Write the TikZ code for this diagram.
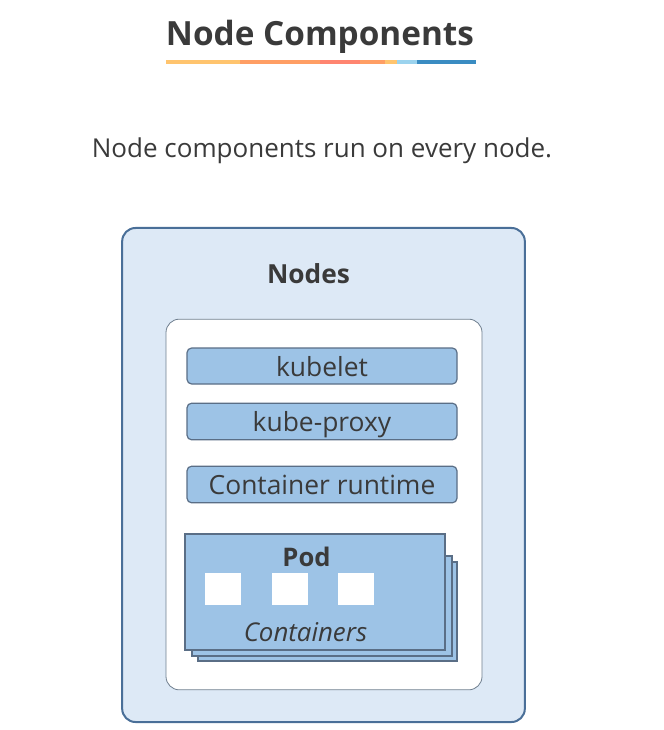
\documentclass[tikz,border=0pt]{standalone}
\usepackage{fontspec}
\setmainfont{Open Sans}
\definecolor{txt}{HTML}{3A3A3A}
\definecolor{outerfill}{HTML}{DDE9F6}
\definecolor{outerdraw}{HTML}{4A6F98}
\definecolor{innerdraw}{HTML}{6E7E8E}
\definecolor{boxfill}{HTML}{9DC3E6}
\definecolor{boxdraw}{HTML}{5A6E86}
\definecolor{lorange}{HTML}{FFC46E}
\definecolor{morange}{HTML}{FF9E64}
\definecolor{salmon}{HTML}{FF8570}
\definecolor{lblue}{HTML}{9BD3EE}
\definecolor{dblue}{HTML}{3A8CC2}
\begin{document}
\begin{tikzpicture}[x=0.75pt,y=-0.75pt,
  every node/.style={text=txt, inner sep=0pt},
  comp/.style={draw=boxdraw, fill=boxfill, line width=0.9pt, rounded corners=3.5pt,
    font=\fontsize{19.8}{24}\selectfont, text height=15pt, text depth=0pt},
  podrect/.style={draw=boxdraw, fill=boxfill, line width=0.9pt},
  ctr/.style={fill=white, minimum width=27pt, minimum height=24pt},
  seg/.style={line width=2.4pt}]
\useasboundingbox (0,0) rectangle (663,730);
% title
\node[font=\fontsize{25}{30}\bfseries] (title) at (320,37) {Node Components};
\draw[seg,lorange] (166,62) -- (240,62);
\draw[seg,morange] (240,62) -- (320,62);
\draw[seg,salmon] (320,62) -- (360,62);
\draw[seg,morange] (360,62) -- (385,62);
\draw[seg,lorange] (385,62) -- (397,62);
\draw[seg,lblue] (397,62) -- (417,62);
\draw[seg,dblue] (417,62) -- (476,62);
\node[font=\fontsize{19.5}{24}\selectfont] (sub) at (322,151) {Node components run on every node.};
% outer
\node[draw=outerdraw, fill=outerfill, line width=1.5pt, rounded corners=10pt,
  minimum width=302pt, minimum height=370.5pt] (outer) at (323.5,475) {};
\node[font=\fontsize{19.7}{24}\bfseries] (nodes) at (308.5,274) {Nodes};
\node[draw=innerdraw, fill=white, line width=0.6pt, rounded corners=10pt,
  minimum width=237pt, minimum height=278pt] (inner) at (324,504.5) {};
\node[comp, minimum width=202.5pt, minimum height=27pt] (kubelet) at (322,366) {kubelet};
\node[comp, minimum width=202.5pt, minimum height=27.5pt] (proxy) at (322,421.5) {kube-proxy};
\node[comp, minimum width=202.5pt, minimum height=27.5pt] (runtime) at (322,484.5) {Container runtime};
% pod stack
\node[podrect, minimum width=194.25pt, minimum height=74.25pt] (pod3) at (327.5,611.5) {};
\node[podrect, minimum width=195pt, minimum height=75pt] (pod2) at (322,606) {};
\node[podrect, minimum width=195pt, minimum height=87pt] (pod1) at (315,592) {};
\node[font=\fontsize{19.2}{23}\bfseries] (podlabel) at (306.5,557) {Pod};
\node[ctr] (c1) at (223,589) {};
\node[ctr] (c2) at (289.5,589) {};
\node[ctr] (c3) at (356,589) {};
\node[font=\fontsize{19.4}{23}\itshape] (containers) at (305.5,632) {Containers};
\end{tikzpicture}
\end{document}
